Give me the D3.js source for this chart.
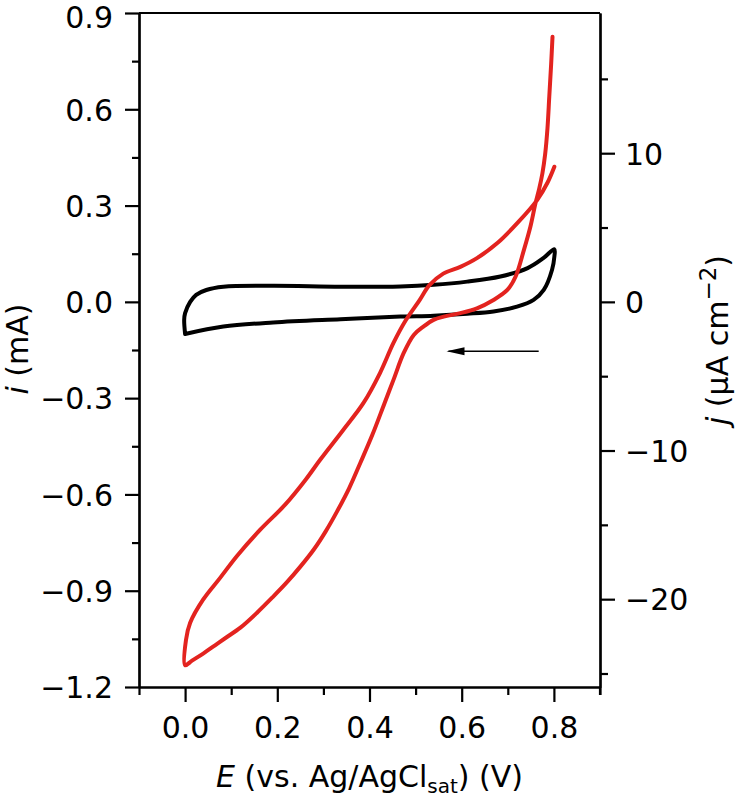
<!DOCTYPE html>
<html>
<head>
<meta charset="utf-8">
<script src="https://cdn.jsdelivr.net/npm/d3@7/dist/d3.min.js"></script>
<style>
  html, body { margin: 0; padding: 0; background: #fff; }
  svg { display: block; }
  text { font-family: "DejaVu Sans", sans-serif; fill: #000; }
</style>
</head>
<body>
<svg id="chart" width="736" height="799"></svg>
<script>
// ---- Data (E in V vs Ag/AgCl, i in mA) ----
const blackE = [0.000, -0.002, 0.000, 0.011, 0.024, 0.046, 0.083, 0.191, 0.337, 0.467, 0.539, 0.612, 0.684, 0.743, 0.777, 0.801,
                0.801, 0.796, 0.778, 0.756, 0.720, 0.669, 0.612, 0.539, 0.467, 0.337, 0.191, 0.083, 0.000];
const blackI = [-0.100, -0.056, -0.035, 0.000, 0.022, 0.037, 0.047, 0.050, 0.047, 0.048, 0.053, 0.063, 0.079, 0.105, 0.136, 0.164,
                0.141, 0.100, 0.037, 0.006, -0.015, -0.030, -0.037, -0.043, -0.046, -0.054, -0.064, -0.077, -0.100];

const redE = [0.797, 0.794, 0.790, 0.786, 0.781, 0.775, 0.768, 0.760, 0.749, 0.735, 0.717, 0.699, 0.669, 0.633, 0.597, 0.561,
              0.539, 0.517, 0.496, 0.474, 0.452, 0.432, 0.406, 0.380, 0.356, 0.330, 0.305, 0.280, 0.250, 0.220, 0.190, 0.155,
              0.120, 0.090, 0.065, 0.040, 0.015, 0.000,
              0.002, 0.011, 0.039, 0.076, 0.113, 0.163, 0.217, 0.261, 0.293, 0.343, 0.387, 0.423, 0.452, 0.478, 0.508, 0.530,
              0.560, 0.597, 0.634, 0.678, 0.721, 0.764, 0.786, 0.801];
const redI = [0.826, 0.740, 0.640, 0.540, 0.460, 0.400, 0.352, 0.307, 0.234, 0.162, 0.079, 0.037, 0.006, -0.020, -0.035, -0.046,
              -0.056, -0.077, -0.103, -0.160, -0.243, -0.318, -0.415, -0.502, -0.580, -0.652, -0.715, -0.770, -0.825, -0.875, -0.920, -0.970,
              -1.015, -1.045, -1.070, -1.095, -1.118, -1.132,
              -1.053, -1.000, -0.928, -0.860, -0.791, -0.710, -0.632, -0.555, -0.492, -0.399, -0.315, -0.221, -0.128, -0.059, 0.004, 0.052,
              0.088, 0.109, 0.137, 0.184, 0.246, 0.318, 0.371, 0.421];

// scan-direction arrow (from, to) in data units
const arrowE = [0.767, 0.567];
const arrowI = [-0.154, -0.154];

// ticks
const xMajor = [0.0, 0.2, 0.4, 0.6, 0.8];
const xMinor = [-0.1, 0.1, 0.3, 0.5, 0.7, 0.9];
const iMajor = [0.9, 0.6, 0.3, 0.0, -0.3, -0.6, -0.9, -1.2];
const iMinor = [0.75, 0.45, 0.15, -0.15, -0.45, -0.75, -1.05];
const jMajor = [10, 0, -10, -20];
const jMinor = [15, 5, -5, -15, -25];
const jPerMA = 21.59; // µA cm^-2 per mA (electrode-area conversion)

// ---- Layout ----
const L = 139, R = 600, T = 13, B = 687;
const svg = d3.select("#chart");

const x = d3.scaleLinear().domain([-0.1, 0.9]).range([L, R]);
const y = d3.scaleLinear().domain([-1.2, 0.9]).range([B, T]);
const yj = d3.scaleLinear().domain([-1.2 * jPerMA, 0.9 * jPerMA]).range([B, T]);

function styleAxis(g) {
  g.selectAll("path.domain").attr("stroke", "#000").attr("stroke-width", 2.2);
  g.selectAll(".tick line").attr("stroke", "#000").attr("stroke-width", 2.2);
  g.selectAll("text").attr("font-size", 30).attr("font-family", "DejaVu Sans, sans-serif").attr("fill", "#000");
}

// top border
svg.append("line").attr("x1", L).attr("x2", R).attr("y1", T).attr("y2", T)
  .attr("stroke", "#000").attr("stroke-width", 2.2);

// bottom axis
const fmtX = d3.format(".1f");
svg.append("g").attr("transform", `translate(0,${B})`)
  .call(d3.axisBottom(x).tickValues(xMinor).tickSize(8).tickSizeOuter(0).tickFormat(""))
  .call(styleAxis);
svg.append("g").attr("transform", `translate(0,${B})`)
  .call(d3.axisBottom(x).tickValues(xMajor).tickSize(15).tickSizeOuter(0).tickPadding(15).tickFormat(fmtX))
  .call(styleAxis);

// left axis
svg.append("g").attr("transform", `translate(${L},0)`)
  .call(d3.axisLeft(y).tickValues(iMinor).tickSize(7).tickSizeOuter(0).tickFormat(""))
  .call(styleAxis);
const gl = svg.append("g").attr("transform", `translate(${L},0)`)
  .call(d3.axisLeft(y).tickValues(iMajor).tickSize(14).tickSizeOuter(0).tickPadding(12).tickFormat(fmtX))
  .call(styleAxis);
gl.selectAll(".tick text").attr("dy", d => d === iMajor[0] ? "0.48em" : "0.36em");

// right axis
svg.append("g").attr("transform", `translate(${R},0)`)
  .call(d3.axisRight(yj).tickValues(jMinor).tickSize(8).tickSizeOuter(0).tickFormat(""))
  .call(styleAxis);
const gr = svg.append("g").attr("transform", `translate(${R},0)`)
  .call(d3.axisRight(yj).tickValues(jMajor).tickSize(15).tickSizeOuter(0).tickPadding(10).tickFormat(d3.format("d")))
  .call(styleAxis);
gr.selectAll(".tick text").attr("dy", "0.36em");

// extend right axis line down to the minor tick length
svg.append("line").attr("x1", R).attr("x2", R).attr("y1", B).attr("y2", B + 8)
  .attr("stroke", "#000").attr("stroke-width", 2.2);

// ---- Curves ----
const line = d3.line().x(d => x(d[0])).y(d => y(d[1])).curve(d3.curveCatmullRom.alpha(0.5));
const blackData = blackE.map((e, k) => [e, blackI[k]]);
const redData = redE.map((e, k) => [e, redI[k]]);

svg.append("path").datum(blackData).attr("d", line)
  .attr("fill", "none").attr("stroke", "#000").attr("stroke-width", 4)
  .attr("stroke-linejoin", "round").attr("stroke-linecap", "round");
svg.append("path").datum(redData).attr("d", line)
  .attr("fill", "none").attr("stroke", "#e3231f").attr("stroke-width", 4)
  .attr("stroke-linejoin", "round").attr("stroke-linecap", "round");

// ---- Arrow ----
svg.append("line")
  .attr("x1", x(arrowE[0])).attr("y1", y(arrowI[0]))
  .attr("x2", x(arrowE[1]) + 2).attr("y2", y(arrowI[1]))
  .attr("stroke", "#000").attr("stroke-width", 1.5);
svg.append("path")
  .attr("d", `M${x(arrowE[1])},${y(arrowI[1])} l18,-4 l0,8 Z`)
  .attr("fill", "#000");

// ---- Axis titles ----
const xt = svg.append("text").attr("x", (L + R) / 2).attr("y", 787)
  .attr("text-anchor", "middle").attr("font-size", 30);
xt.append("tspan").attr("font-style", "italic").text("E");
xt.append("tspan").text(" (vs. Ag/AgCl");
xt.append("tspan").attr("font-size", 20).attr("dy", 6).text("sat");
xt.append("tspan").attr("dy", -6).text(") (V)");

const yl = svg.append("text").attr("transform", "translate(28,349) rotate(-90)")
  .attr("text-anchor", "middle").attr("font-size", 30);
yl.append("tspan").attr("font-style", "italic").text("i");
yl.append("tspan").text(" (mA)");

const yr = svg.append("text").attr("transform", "translate(728,340) rotate(-90)")
  .attr("text-anchor", "middle").attr("font-size", 30);
yr.append("tspan").attr("font-style", "italic").text("j");
yr.append("tspan").text(" (μA cm");
yr.append("tspan").attr("font-size", 23).attr("dy", -12).text("−2");
yr.append("tspan").attr("dy", 12).text(")");
</script>
</body>
</html>
